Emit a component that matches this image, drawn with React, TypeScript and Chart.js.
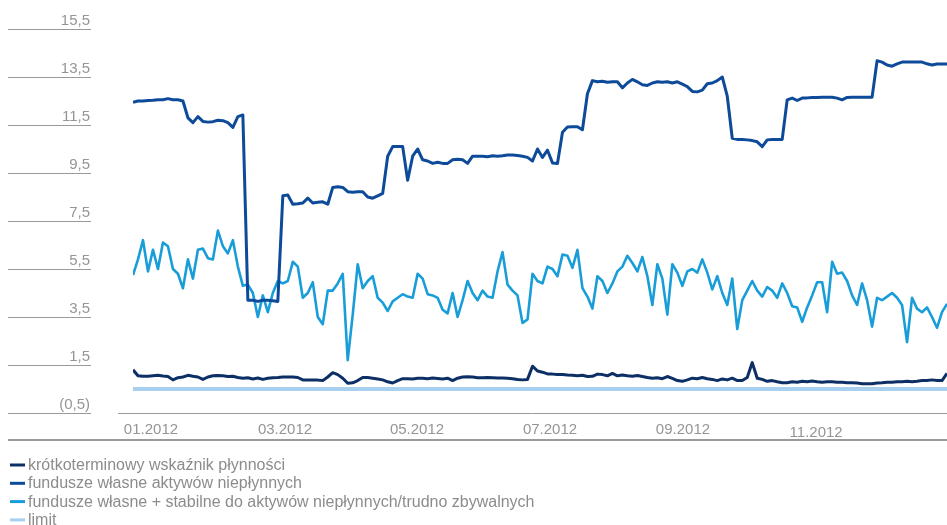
import { useEffect, useRef } from "react";
import { Chart, registerables } from "chart.js";

Chart.register(...registerables);

// Daily observations through 2012 (one value per session)
const shortTermRatio = [
  1.3, 1.05, 1.03, 1.03, 1.05, 1.07, 1.04, 1.02, 0.88, 0.97,
  1.0, 1.07, 1.03, 1.0, 0.9, 1.0, 1.05, 1.06, 1.05, 1.02,
  1.03, 0.98, 0.95, 0.97, 0.92, 0.96, 0.9, 0.95, 0.97, 0.98,
  1.0, 1.0, 1.0, 0.98, 0.88, 0.87, 0.87, 0.87, 0.85, 1.0,
  1.18, 1.1, 0.95, 0.74, 0.76, 0.85, 0.98, 0.98, 0.95, 0.92,
  0.88, 0.8, 0.75, 0.85, 0.93, 0.93, 0.92, 0.95, 0.95, 0.93,
  0.96, 0.94, 0.92, 0.95, 0.85, 0.95, 1.0, 1.01, 1.0, 0.97,
  0.97, 0.98, 0.97, 0.96, 0.96, 0.95, 0.93, 0.9, 0.88, 0.9,
  1.45, 1.25, 1.2, 1.13, 1.12, 1.1, 1.1, 1.08, 1.07, 1.05,
  1.07, 1.02, 1.03, 1.12, 1.1, 1.05, 1.15, 1.05, 1.08, 1.05,
  1.03, 1.06, 1.02, 0.98, 0.95, 0.97, 0.93, 1.02, 0.94, 0.85,
  0.82, 0.88, 0.95, 0.93, 0.98, 0.93, 0.9, 0.85, 0.92, 0.88,
  0.95, 0.85, 0.85, 0.98, 1.6, 0.95, 0.9, 0.82, 0.85, 0.8,
  0.76, 0.76, 0.8, 0.78, 0.82, 0.8, 0.83, 0.8, 0.78, 0.8,
  0.8, 0.78, 0.78, 0.76, 0.76, 0.75, 0.72, 0.72, 0.72, 0.75,
  0.76, 0.78, 0.78, 0.8, 0.8, 0.82, 0.8, 0.82, 0.85, 0.85,
  0.88, 0.85, 0.85, 1.15,
];

const ownFundsIlliquid = [
  12.45, 12.5, 12.5, 12.52, 12.53, 12.55, 12.55, 12.6, 12.55, 12.55,
  12.5, 11.8, 11.6, 11.85, 11.65, 11.62, 11.64, 11.7, 11.68, 11.6,
  11.4, 11.85, 11.92, 4.2, 4.2, 4.15, 4.2, 4.2, 4.18, 4.15,
  8.55, 8.58, 8.2, 8.22, 8.25, 8.45, 8.25, 8.28, 8.3, 8.2,
  8.9, 8.93, 8.9, 8.72, 8.7, 8.72, 8.72, 8.5, 8.45, 8.55,
  8.65, 10.2, 10.6, 10.6, 10.6, 9.2, 10.2, 10.5, 10.05, 10.0,
  9.9, 9.95, 9.9, 9.9, 10.05, 10.07, 10.05, 9.9, 10.2, 10.2,
  10.2, 10.18, 10.22, 10.2, 10.22, 10.25, 10.25, 10.23, 10.2, 10.15,
  10.0, 10.5, 10.15, 10.45, 9.92, 9.9, 11.2, 11.42, 11.43, 11.43,
  11.3, 12.8, 13.35, 13.3, 13.32, 13.28, 13.3, 13.3, 13.05, 13.25,
  13.4, 13.3, 13.18, 13.15, 13.25, 13.3, 13.28, 13.3, 13.25, 13.3,
  13.2, 13.1, 12.9, 12.88, 12.95, 13.22, 13.25, 13.35, 13.5, 12.7,
  10.95, 10.9, 10.9, 10.88, 10.85, 10.8, 10.6, 10.88, 10.9, 10.9,
  10.9, 12.55, 12.62, 12.52, 12.62, 12.63, 12.65, 12.65, 12.66, 12.66,
  12.66, 12.62, 12.55, 12.65, 12.66, 12.66, 12.66, 12.66, 12.66, 14.18,
  14.12, 14.0, 13.95, 14.05, 14.12, 14.12, 14.12, 14.12, 14.12, 14.05,
  14.0, 14.04, 14.04, 14.04,
];

const ownFundsStable = [
  5.25, 5.9, 6.7, 5.4, 6.3, 5.5, 6.6, 6.45, 5.5, 5.3,
  4.7, 5.9, 5.1, 6.3, 6.35, 5.95, 5.9, 7.1, 6.45, 6.15,
  6.7, 5.6, 4.8, 4.85, 4.5, 3.5, 4.4, 3.7, 4.5, 5.0,
  4.9, 5.0, 5.8, 5.6, 4.3, 4.5, 4.95, 3.5, 3.2, 4.6,
  4.6, 4.9, 5.3, 1.7, 3.6, 5.7, 4.7, 5.0, 5.2, 4.3,
  4.1, 3.75, 4.15, 4.3, 4.45, 4.35, 4.3, 5.3, 5.1, 4.45,
  4.4, 4.3, 3.8, 3.65, 4.5, 3.5, 4.2, 5.0, 4.5, 4.2,
  4.6, 4.35, 4.3, 5.4, 6.2, 4.85, 4.6, 4.4, 3.25, 3.4,
  5.3, 5.0, 4.9, 5.6, 5.5, 5.2, 6.1, 6.05, 5.55, 6.3,
  4.7, 4.35, 3.85, 5.2, 5.0, 4.5, 4.9, 5.4, 5.6, 6.05,
  5.75, 5.4, 6.0, 5.2, 4.0, 5.7, 5.1, 3.6, 5.7, 5.35,
  4.8, 5.4, 5.5, 5.35, 5.9, 5.35, 4.65, 5.2, 4.5, 4.0,
  5.1, 3.0, 4.2, 4.6, 5.0, 4.6, 4.35, 4.75, 4.6, 4.3,
  4.9, 4.5, 3.95, 3.9, 3.3, 3.9, 4.4, 4.95, 4.95, 3.7,
  5.8, 5.3, 5.35, 5.0, 4.4, 4.0, 4.9, 4.2, 3.1, 4.3,
  4.2, 4.35, 4.5, 4.3, 4.0, 2.45, 4.3, 3.85, 3.7, 3.9,
  3.5, 3.05, 3.7, 4.05,
];

const limitLevel = 0.5;

const seriesLabels = [
  "krótkoterminowy wskaźnik płynności",
  "fundusze własne aktywów niepłynnych",
  "fundusze własne + stabilne do aktywów niepłynnych/trudno zbywalnych",
  "limit",
];

// Month markers, expressed in session index units
const monthTickAt = [3.6, 30.44, 56.87, 83.5, 110.13, 136.8];
const monthTickLabels = ["01.2012", "03.2012", "05.2012", "07.2012", "09.2012", "11.2012"];

const yTickValues = [15.5, 13.5, 11.5, 9.5, 7.5, 5.5, 3.5, 1.5, -0.5];

const FONT = '"Liberation Sans", Arial, Helvetica, sans-serif';
const AXIS_GREY = "#9a9a9a";
const TEXT_GREY = "#959595";
const LEGEND_GREY = "#8c8c8c";

const formatTick = (v: number) => {
  const s = Math.abs(v).toFixed(1).replace(".", ",");
  return v < 0 ? `(${s})` : s;
};

const toPoints = (values: number[]) => values.map((y, i) => ({ x: i, y }));

const decorPlugin = {
  id: "decor",
  afterDraw(chart: any) {
    const { ctx, scales } = chart;
    const xs = scales.x;
    const ys = scales.y;
    ctx.save();

    // value guides on the left with their labels sitting above
    ctx.lineWidth = 1;
    ctx.strokeStyle = AXIS_GREY;
    ctx.fillStyle = TEXT_GREY;
    ctx.font = `15px ${FONT}`;
    ctx.textAlign = "right";
    ctx.textBaseline = "alphabetic";
    yTickValues.forEach((v) => {
      const py = Math.round(ys.getPixelForValue(v)) + 0.5;
      ctx.beginPath();
      ctx.moveTo(8, py);
      ctx.lineTo(91, py);
      ctx.stroke();
      ctx.fillText(formatTick(v), 90, py - 5);
    });

    // x axis line
    const axisY = Math.round(ys.getPixelForValue(-0.5)) + 0.5;
    ctx.beginPath();
    ctx.moveTo(118, axisY);
    ctx.lineTo(chart.width, axisY);
    ctx.stroke();

    // month labels
    ctx.textAlign = "center";
    monthTickAt.forEach((pos, i) => {
      const px = xs.getPixelForValue(pos);
      const drop = i === monthTickLabels.length - 1 ? 3 : 0;
      ctx.fillText(monthTickLabels[i], px, axisY + 20 + drop);
    });

    // separator above the legend
    ctx.lineWidth = 2;
    ctx.beginPath();
    ctx.moveTo(8, axisY + 26.5);
    ctx.lineTo(chart.width, axisY + 26.5);
    ctx.stroke();

    // legend, one entry per row
    ctx.textAlign = "left";
    ctx.fillStyle = LEGEND_GREY;
    ctx.font = `16px ${FONT}`;
    chart.data.datasets.forEach((ds: any, i: number) => {
      const base = 470 + i * 18.3;
      ctx.strokeStyle = ds.borderColor;
      ctx.lineWidth = 3;
      ctx.beginPath();
      ctx.moveTo(10, base - 5);
      ctx.lineTo(25, base - 5);
      ctx.stroke();
      ctx.fillText(ds.label, 28, base);
    });

    ctx.restore();
  },
};

export default function App() {
  const canvasRef = useRef<HTMLCanvasElement | null>(null);

  useEffect(() => {
    const canvas = canvasRef.current;
    if (!canvas) return;
    const common = {
      pointRadius: 0,
      pointHoverRadius: 0,
      tension: 0,
      fill: false,
      borderJoinStyle: "round" as const,
      borderCapStyle: "butt" as const,
    };
    const chart = new Chart(canvas, {
      type: "line",
      data: {
        datasets: [
          { ...common, label: seriesLabels[0], data: toPoints(shortTermRatio), borderColor: "#0c2f66", borderWidth: 3 },
          { ...common, label: seriesLabels[1], data: toPoints(ownFundsIlliquid), borderColor: "#0d4a9a", borderWidth: 3 },
          { ...common, label: seriesLabels[2], data: toPoints(ownFundsStable), borderColor: "#189dd9", borderWidth: 2.6 },
          {
            ...common,
            label: seriesLabels[3],
            data: toPoints(shortTermRatio.map(() => limitLevel)),
            borderColor: "#a8cfee",
            borderWidth: 4,
          },
        ],
      },
      options: {
        responsive: false,
        animation: false,
        events: [],
        layout: { padding: { left: 133, right: 0, top: 29, bottom: 112 } },
        scales: {
          x: { type: "linear", min: 0, max: shortTermRatio.length - 1, display: false },
          y: { type: "linear", min: -0.5, max: 15.5, display: false },
        },
        plugins: {
          legend: { display: false },
          tooltip: { enabled: false },
        },
      },
      plugins: [decorPlugin],
    });
    return () => chart.destroy();
  }, []);

  return (
    <div style={{ position: "absolute", left: 0, top: 0, width: 947, height: 525, background: "#fff" }}>
      <canvas ref={canvasRef} width={947} height={525} style={{ display: "block" }} />
    </div>
  );
}
